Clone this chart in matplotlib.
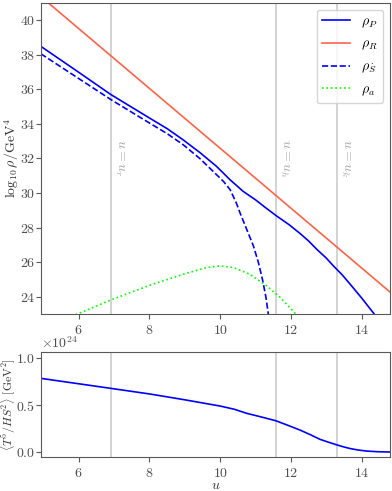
import matplotlib
matplotlib.use("Agg")
import matplotlib.pyplot as plt

plt.rcParams["font.family"] = "serif"
plt.rcParams["font.serif"] = ["cmr10", "DejaVu Serif"]
plt.rcParams["mathtext.fontset"] = "cm"
plt.rcParams["axes.formatter.use_mathtext"] = True
plt.rcParams["axes.unicode_minus"] = False
plt.rcParams["font.size"] = 10

# values
u_P = [4.93, 6.0, 6.91, 8.02, 8.5, 8.96, 9.43, 9.90, 10.28, 10.65, 11.0, 11.3, 11.6, 11.95,
       12.26, 12.5, 12.73, 13.0, 13.2, 13.45, 13.67, 14.0, 14.33, 14.45]
rho_P = [38.48, 36.98, 35.69, 34.31, 33.72, 33.06, 32.33, 31.53, 30.76, 30.09, 29.6, 29.12,
         28.66, 28.16, 27.65, 27.22, 26.74, 26.23, 25.78, 25.26, 24.73, 23.92, 23.06, 22.75]

u_R = [4.93, 14.8]
rho_R = [41.36, 24.27]

u_S = [4.93, 6.91, 8.02, 8.5, 8.96, 9.43, 9.90, 10.1, 10.28, 10.45, 10.56, 10.75, 10.94,
       11.08, 11.2, 11.29, 11.36, 11.40]
rho_S = [38.05, 35.40, 34.02, 33.43, 32.78, 31.98, 31.05, 30.65, 30.19, 29.45, 28.85, 27.89,
         26.93, 25.98, 24.95, 24.0, 23.0, 22.5]

u_a = [5.8, 5.97, 6.91, 8.02, 8.96, 9.62, 10.0, 10.37, 10.84, 11.31, 11.69, 12.11, 12.2]
rho_a = [22.86, 23.0, 23.81, 24.67, 25.30, 25.69, 25.78, 25.69, 25.30, 24.63, 23.97, 23.06, 22.9]

u_T = [4.93, 6.91, 8.02, 9.0, 10.0, 10.4, 10.75, 11.2, 11.57, 11.9, 12.25, 12.55, 12.82,
       13.05, 13.30, 13.5, 13.67, 13.9, 14.14, 14.45, 14.8]
T5_HS2 = [0.782, 0.676, 0.616, 0.555, 0.489, 0.455, 0.412, 0.37, 0.334, 0.287, 0.236, 0.186,
          0.137, 0.108, 0.078, 0.056, 0.040, 0.024, 0.013, 0.006, 0.003]  # x 1e24

u_marks = [6.91, 11.57, 13.30]
mark_labels = [r"$u = u_r$", r"$u = u_h$", r"$u = u_k$"]

fig = plt.figure(figsize=(3.92, 4.91), dpi=100)
ax1 = fig.add_axes([0.104, 0.3605, 0.891, 0.634])
ax2 = fig.add_axes([0.104, 0.0692, 0.891, 0.2138])

for uu, lab in zip(u_marks, mark_labels):
    ax1.axvline(uu, color="0.8", lw=1.2, zorder=0)
    ax1.text(uu + 0.05, 32.0, lab, rotation=-90, ha="left", va="center",
             color="0.65", fontsize=10)
    ax2.axvline(uu, color="0.8", lw=1.2, zorder=0)

ax1.plot(u_P, rho_P, color="blue", lw=1.2, label=r"$\rho_P$")
ax1.plot(u_R, rho_R, color="tomato", lw=1.2, label=r"$\rho_R$")
ax1.plot(u_S, rho_S, color="blue", lw=1.2, ls="--", label=r"$\rho_{\dot{S}}$")
ax1.plot(u_a, rho_a, color="lime", lw=1.2, ls=":", label=r"$\rho_a$")

ax1.set_xlim(4.93, 14.8)
ax1.set_ylim(23, 41)
ax1.set_yticks(range(24, 41, 2))
ax1.set_xticks(range(6, 15, 2))
ax1.set_ylabel(r"$\log_{10}\rho/\mathrm{GeV}^4$")
ax1.yaxis.set_label_coords(-0.058, 0.5)
ax1.legend(loc="upper right", fontsize=10, handlelength=2.0, labelspacing=0.6)

ax2.plot(u_T, [v * 1e24 for v in T5_HS2], color="blue", lw=1.2)
ax2.set_xlim(4.93, 14.8)
ax2.set_ylim(-0.05e24, 1.06e24)
ax2.set_yticks([0, 0.5e24, 1.0e24])
ax2.set_xticks(range(6, 15, 2))
ax2.set_xlabel(r"$u$", labelpad=0)
ax2.set_ylabel(r"$\langle T^5/HS^2\rangle\ [\mathrm{GeV}^2]$", fontsize=8.5)
ax2.yaxis.set_label_coords(-0.066, 0.5)

for ax in (ax1, ax2):
    for sp in ax.spines.values():
        sp.set_color("0.35")
    ax.tick_params(axis="y", pad=0.5)
    ax.tick_params(colors="0.35", labelcolor="0.3", length=3.5)
    ax.yaxis.label.set_color("0.2")
    ax.xaxis.label.set_color("0.2")

fig.savefig("out.png", dpi=100)
